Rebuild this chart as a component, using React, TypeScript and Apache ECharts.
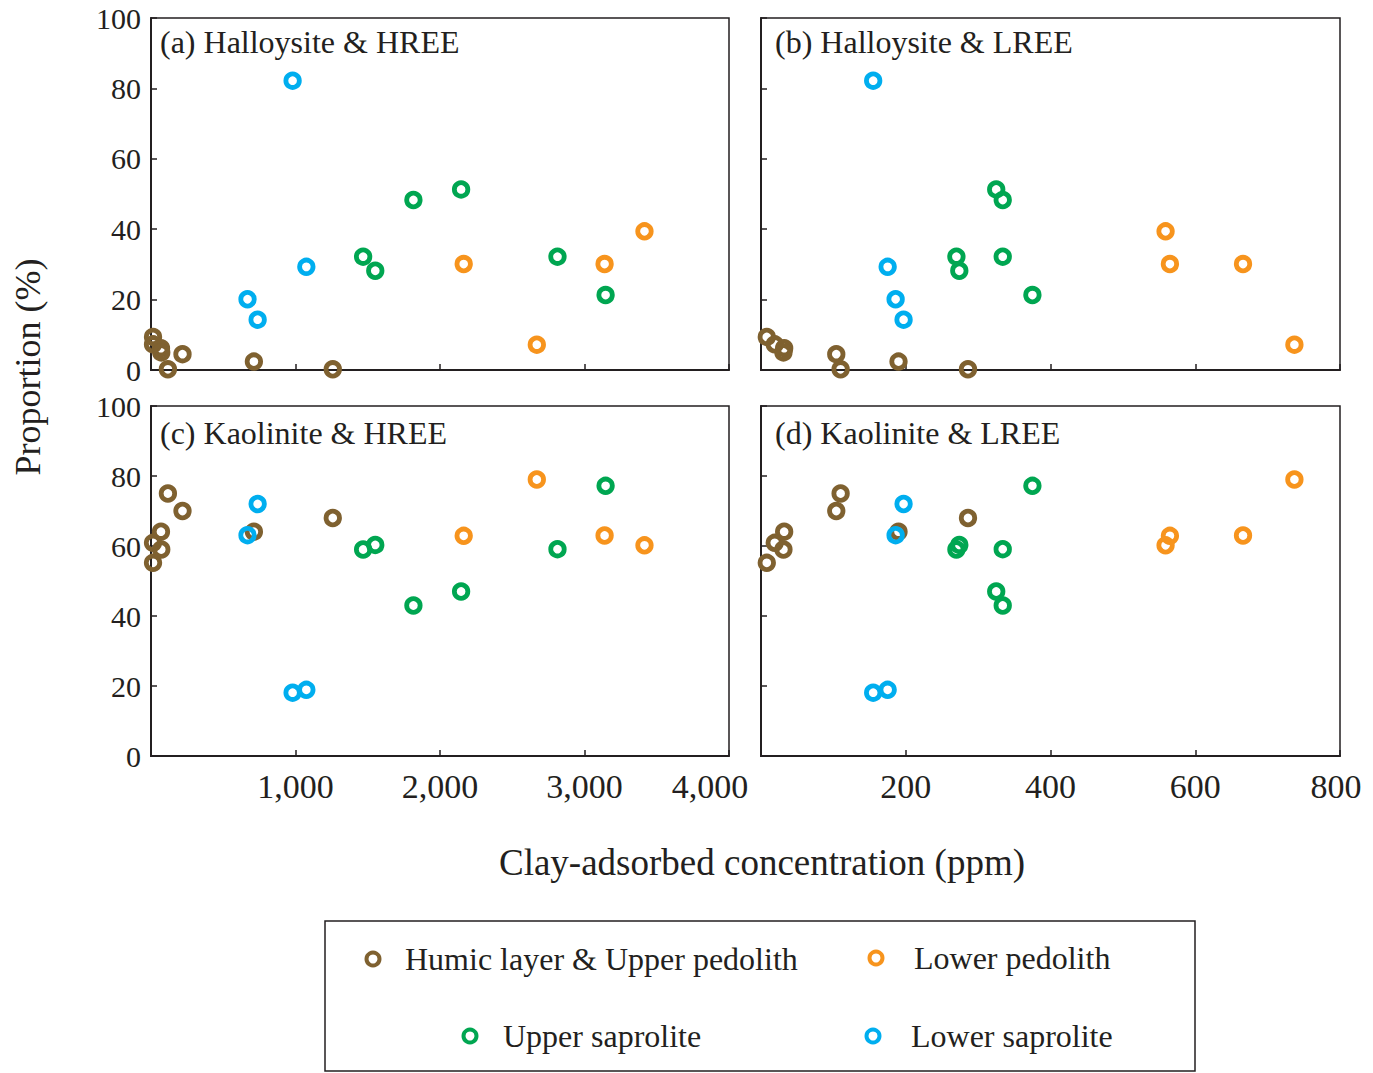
import React, { useEffect, useRef } from "react";
import * as echarts from "echarts";

// ---- data ----
const groupNames = [
  "Humic layer & Upper pedolith",
  "Lower pedolith",
  "Upper saprolite",
  "Lower saprolite",
];
const groupColors = ["#7F6130", "#F7941D", "#00A651", "#00AEEF"];

// Humic layer & Upper pedolith
const humicHREE = [14, 14, 69, 71, 117, 218, 712, 1258];
const humicLREE = [8, 19, 32, 31, 110, 104, 190, 286];
const humicHalloysite = [9.4, 7.3, 6.2, 5.0, 0.2, 4.5, 2.4, 0.2];
const humicKaolinite = [55.2, 60.9, 64.1, 59.0, 75.0, 70.0, 64.1, 68.0];

// Lower pedolith
const lowerPedHREE = [2164, 3139, 3415, 2670];
const lowerPedLREE = [565, 666, 559, 737];
const lowerPedHalloysite = [30.1, 30.1, 39.4, 7.2];
const lowerPedKaolinite = [62.9, 63.0, 60.2, 79.0];

// Upper saprolite
const upperSapHREE = [1468, 1552, 1816, 2146, 2813, 3146];
const upperSapLREE = [270, 274, 334, 325, 334, 375];
const upperSapHalloysite = [32.2, 28.2, 48.3, 51.3, 32.2, 21.3];
const upperSapKaolinite = [59.0, 60.3, 43.0, 47.0, 59.1, 77.2];

// Lower saprolite
const lowerSapHREE = [980, 1075, 668, 738];
const lowerSapLREE = [155, 175, 186, 197];
const lowerSapHalloysite = [82.2, 29.3, 20.1, 14.3];
const lowerSapKaolinite = [18.1, 18.9, 63.1, 72.0];

const panelTitles = [
  "(a) Halloysite & HREE",
  "(b) Halloysite & LREE",
  "(c) Kaolinite & HREE",
  "(d) Kaolinite & LREE",
];
const hreeTicks = { min: 0, max: 4000, interval: 1000 };
const lreeTicks = { min: 0, max: 800, interval: 200 };
const yTicks = { min: 0, max: 100, interval: 20 };
const xAxisTitle = "Clay-adsorbed concentration (ppm)";
const yAxisTitle = "Proportion (%)";

const groupsX = [
  [humicHREE, humicLREE],
  [lowerPedHREE, lowerPedLREE],
  [upperSapHREE, upperSapLREE],
  [lowerSapHREE, lowerSapLREE],
];
const groupsY = [
  [humicHalloysite, humicKaolinite],
  [lowerPedHalloysite, lowerPedKaolinite],
  [upperSapHalloysite, upperSapKaolinite],
  [lowerSapHalloysite, lowerSapKaolinite],
];

const FONT = '"Liberation Serif", "Times New Roman", serif';
const TXT = "#231F20";

function fmt(v: number) {
  return v.toLocaleString("en-US");
}

export default function App() {
  const ref = useRef<HTMLDivElement>(null);
  useEffect(() => {
    if (!ref.current) return;
    const chart = echarts.init(ref.current, undefined, { renderer: "svg" });

    const grids = [
      { left: 151, top: 18, width: 578, height: 352 },
      { left: 761, top: 18, width: 579, height: 352 },
      { left: 151, top: 406, width: 578, height: 350 },
      { left: 761, top: 406, width: 579, height: 350 },
    ].map((g) => ({
      ...g,
      show: true,
      borderColor: TXT,
      borderWidth: 1.5,
      backgroundColor: "transparent",
    }));

    const xAxes = [0, 1, 2, 3].map((i) => {
      const isH = i % 2 === 0;
      const t = isH ? hreeTicks : lreeTicks;
      const bottom = i >= 2;
      return {
        type: "value",
        gridIndex: i,
        min: t.min,
        max: t.max,
        interval: t.interval,
        splitLine: { show: false },
        axisLine: { show: true, onZero: false, lineStyle: { color: TXT, width: 2 } },
        axisTick: { show: true, inside: true, length: 6, lineStyle: { color: TXT, width: 1.5 } },
        axisLabel: {
          show: bottom,
          showMinLabel: false,
          margin: 13,
          color: TXT,
          fontFamily: FONT,
          fontSize: 34,
          formatter: (v: number) => (v === t.max ? `{e|${fmt(v)}}` : fmt(v)),
          rich: {
            e: {
              fontFamily: FONT,
              fontSize: 34,
              color: TXT,
              padding: [0, isH ? 38 : 8, 0, 0],
            },
          },
        },
      };
    });

    const yAxes = [0, 1, 2, 3].map((i) => ({
      type: "value",
      gridIndex: i,
      min: yTicks.min,
      max: yTicks.max,
      interval: yTicks.interval,
      splitLine: { show: false },
      axisLine: { show: true, onZero: false, lineStyle: { color: TXT, width: 2 } },
      axisTick: { show: true, inside: true, length: 6, lineStyle: { color: TXT, width: 1.5 } },
      axisLabel: {
        show: i % 2 === 0,
        margin: 10,
        color: TXT,
        fontFamily: FONT,
        fontSize: 30,
      },
    }));

    const series: any[] = [];
    for (let p = 0; p < 4; p++) {
      const xi = p % 2; // 0 HREE, 1 LREE
      const yi = p < 2 ? 0 : 1; // 0 halloysite, 1 kaolinite
      for (let g = 0; g < 4; g++) {
        const xs = groupsX[g][xi];
        const ys = groupsY[g][yi];
        series.push({
          type: "scatter",
          name: groupNames[g],
          xAxisIndex: p,
          yAxisIndex: p,
          clip: false,
          symbol: "circle",
          symbolSize: 13.5,
          itemStyle: {
            color: "rgba(0,0,0,0)",
            borderColor: groupColors[g],
            borderWidth: 4.8,
            opacity: 1,
          },
          data: xs.map((x, k) => [x, ys[k]]),
        });
      }
    }

    const titlePos = [
      [160, 42],
      [775, 42],
      [160, 433],
      [775, 433],
    ];
    const legendPos = [
      [373, 959, 405],
      [876, 958, 914],
      [470, 1036, 503],
      [873, 1036, 911],
    ];

    const graphic: any[] = [];
    panelTitles.forEach((t, i) => {
      graphic.push({
        type: "text",
        x: titlePos[i][0],
        y: titlePos[i][1],
        style: {
          text: t,
          fontFamily: FONT,
          fontSize: 32,
          fill: TXT,
          align: "left",
          verticalAlign: "middle",
        },
      });
    });
    graphic.push({
      type: "text",
      x: 762,
      y: 862,
      style: {
        text: xAxisTitle,
        fontFamily: FONT,
        fontSize: 37,
        fill: TXT,
        align: "center",
        verticalAlign: "middle",
      },
    });
    graphic.push({
      type: "text",
      x: 28,
      y: 367,
      rotation: Math.PI / 2,
      style: {
        text: yAxisTitle,
        fontFamily: FONT,
        fontSize: 36,
        fill: TXT,
        align: "center",
        verticalAlign: "middle",
      },
    });
    graphic.push({
      type: "rect",
      shape: { x: 325, y: 921, width: 870, height: 150 },
      style: { fill: "none", stroke: TXT, lineWidth: 1.5 },
    });
    groupNames.forEach((n, i) => {
      const [cx, cy, tx] = legendPos[i];
      graphic.push({
        type: "circle",
        shape: { cx, cy, r: 6.5 },
        style: { fill: "none", stroke: groupColors[i], lineWidth: 4 },
      });
      graphic.push({
        type: "text",
        x: tx,
        y: cy,
        style: {
          text: n,
          fontFamily: FONT,
          fontSize: 32,
          fill: TXT,
          align: "left",
          verticalAlign: "middle",
        },
      });
    });

    chart.setOption({
      animation: false,
      backgroundColor: "#ffffff",
      grid: grids,
      xAxis: xAxes,
      yAxis: yAxes,
      series,
      graphic,
    });
    return () => chart.dispose();
  }, []);
  return (
    <div
      ref={ref}
      style={{ position: "absolute", left: 0, top: 0, width: 1373, height: 1073 }}
    />
  );
}
